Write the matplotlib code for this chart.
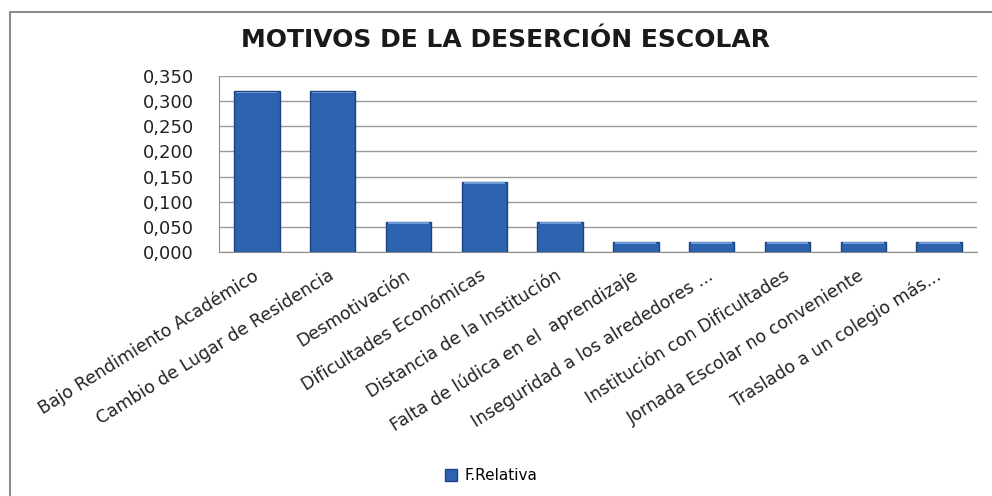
import matplotlib.pyplot as plt
from matplotlib.patches import Rectangle
from matplotlib.ticker import FuncFormatter
import numpy as np

categorias = [
    "Bajo Rendimiento Académico",
    "Cambio de Lugar de Residencia",
    "Desmotivación",
    "Dificultades Económicas",
    "Distancia de la Institución",
    "Falta de lúdica en el  aprendizaje",
    "Inseguridad a los alrededores ...",
    "Institución con Dificultades",
    "Jornada Escolar no conveniente",
    "Traslado a un colegio más...",
]
f_relativa = [0.32, 0.32, 0.06, 0.14, 0.06, 0.02, 0.02, 0.02, 0.02, 0.02]
ticks_y = [0.0, 0.05, 0.10, 0.15, 0.20, 0.25, 0.30, 0.35]

plt.rcParams['font.family'] = ['DejaVu Sans']

fig = plt.figure(figsize=(9.92, 4.96), dpi=100)
ax = fig.add_axes([219 / 992, 1 - 252 / 496, (977 - 219) / 992, (252 - 76) / 496])

x = np.arange(len(categorias))
barras = ax.bar(x, f_relativa, width=0.6, color="#2D62AE", edgecolor="#1B447F",
                linewidth=1.0, zorder=3, label="F.Relativa")
# franja clara arriba para imitar el bisel
for b in barras:
    ax.add_patch(Rectangle((b.get_x() + 0.03, b.get_height() - 0.0045), b.get_width() - 0.06, 0.0035,
                           color="#6A9AD8", zorder=4, linewidth=0))

ax.set_xlim(-0.5, len(categorias) - 0.5)
ax.set_ylim(0, 0.35)
ax.set_yticks(ticks_y)
ax.yaxis.set_major_formatter(FuncFormatter(lambda v, p: ("%.3f" % v).replace(".", ",")))
ax.grid(axis="y", color="#9A9A9A", linewidth=1.0, zorder=0)
ax.set_axisbelow(True)

for s in ["top", "right"]:
    ax.spines[s].set_visible(False)
ax.spines["left"].set_color("#8C8C8C")
ax.spines["bottom"].set_color("#8C8C8C")
ax.tick_params(axis="y", length=0, pad=18, labelsize=13, labelcolor="#222222")
ax.tick_params(axis="x", length=0, pad=16, labelsize=12.5, labelcolor="#222222")
ax.set_xticks(x)
ax.set_xticklabels(categorias, rotation=32, ha="right", va="center", rotation_mode="anchor")

fig.text(0.51, 1 - 40 / 496, "MOTIVOS DE LA DESERCIÓN ESCOLAR", ha="center", va="center",
         fontsize=18, fontweight="bold", color="#1A1A1A")

fig.legend(handles=[barras], labels=["F.Relativa"], loc="center", bbox_to_anchor=(0.495, 1 - 476 / 496),
           frameon=False, fontsize=11, handlelength=0.8, handleheight=0.8, handletextpad=0.5)

# borde del area del grafico
fig.patches.append(Rectangle((10 / 992, -0.1), 1.2, 1 - 12 / 496 + 0.1, transform=fig.transFigure,
                             fill=False, edgecolor="#8C8C8C", linewidth=1.5))

plt.savefig("out.png", dpi=100)
